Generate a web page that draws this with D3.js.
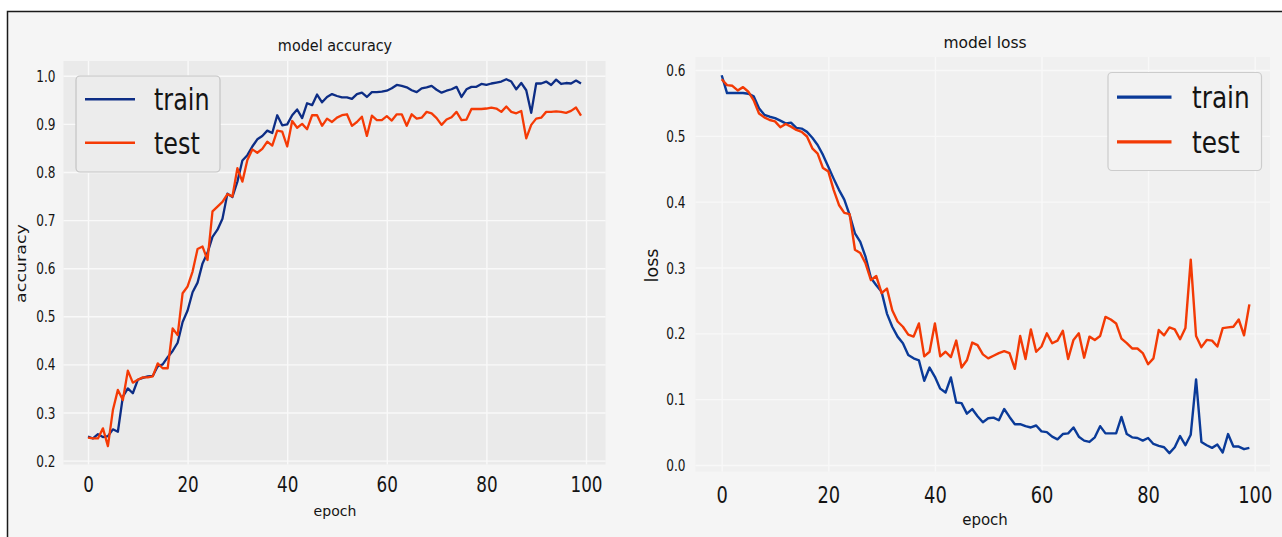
<!DOCTYPE html>
<html>
<head>
<meta charset="utf-8">
<script src="https://cdn.jsdelivr.net/npm/d3@7"></script>
<style>
  html, body { margin: 0; padding: 0; background: #ffffff; }
  svg { display: block; }
</style>
</head>
<body>
<svg id="fig" width="1282" height="537"></svg>
<script>
// Training history, one value per epoch (0..99)
const accTrain = [
  0.250, 0.246, 0.255, 0.249, 0.251, 0.265, 0.260, 0.333, 0.350, 0.340,
  0.368, 0.372, 0.375, 0.376, 0.396, 0.400, 0.415, 0.428, 0.445, 0.488,
  0.512, 0.550, 0.570, 0.610, 0.632, 0.665, 0.680, 0.703, 0.755, 0.748,
  0.780, 0.824, 0.835, 0.853, 0.868, 0.875, 0.886, 0.881, 0.918, 0.897,
  0.899, 0.918, 0.930, 0.912, 0.943, 0.939, 0.961, 0.945, 0.956, 0.962,
  0.958, 0.955, 0.955, 0.952, 0.962, 0.965, 0.956, 0.966, 0.966, 0.967,
  0.969, 0.974, 0.981, 0.979, 0.976, 0.970, 0.966, 0.974, 0.976, 0.979,
  0.971, 0.965, 0.969, 0.972, 0.977, 0.956, 0.972, 0.977, 0.977, 0.983,
  0.981, 0.984, 0.986, 0.988, 0.993, 0.988, 0.972, 0.985, 0.970, 0.923,
  0.984, 0.984, 0.988, 0.981, 0.992, 0.983, 0.985, 0.984, 0.990, 0.984
];
const accTest = [
  0.248, 0.246, 0.246, 0.267, 0.230, 0.305, 0.347, 0.326, 0.387, 0.362,
  0.368, 0.373, 0.373, 0.375, 0.402, 0.392, 0.392, 0.475, 0.461, 0.548,
  0.562, 0.593, 0.640, 0.645, 0.617, 0.718, 0.728, 0.738, 0.754, 0.749,
  0.808, 0.780, 0.825, 0.847, 0.840, 0.848, 0.863, 0.855, 0.886, 0.884,
  0.853, 0.906, 0.892, 0.900, 0.889, 0.918, 0.918, 0.896, 0.911, 0.904,
  0.913, 0.918, 0.920, 0.896, 0.904, 0.915, 0.875, 0.917, 0.908, 0.908,
  0.916, 0.907, 0.920, 0.920, 0.896, 0.920, 0.911, 0.913, 0.925, 0.922,
  0.912, 0.898, 0.909, 0.914, 0.925, 0.908, 0.909, 0.931, 0.931, 0.931,
  0.932, 0.934, 0.932, 0.925, 0.936, 0.925, 0.922, 0.927, 0.870, 0.898,
  0.911, 0.913, 0.925, 0.925, 0.926, 0.925, 0.923, 0.927, 0.934, 0.917
];
const lossTrain = [
  0.592, 0.565, 0.565, 0.565, 0.565, 0.564, 0.560, 0.542, 0.532, 0.529,
  0.527, 0.523, 0.519, 0.520, 0.512, 0.511, 0.506, 0.497, 0.486, 0.471,
  0.453, 0.435, 0.418, 0.403, 0.380, 0.352, 0.339, 0.316, 0.284, 0.273,
  0.263, 0.230, 0.210, 0.195, 0.185, 0.167, 0.162, 0.159, 0.128, 0.148,
  0.134, 0.116, 0.110, 0.133, 0.095, 0.094, 0.078, 0.085, 0.074, 0.065,
  0.071, 0.072, 0.068, 0.085, 0.073, 0.062, 0.062, 0.059, 0.057, 0.060,
  0.051, 0.050, 0.043, 0.039, 0.047, 0.048, 0.057, 0.043, 0.037, 0.035,
  0.042, 0.059, 0.048, 0.048, 0.048, 0.073, 0.047, 0.042, 0.041, 0.037,
  0.041, 0.032, 0.029, 0.027, 0.018, 0.027, 0.044, 0.030, 0.046, 0.130,
  0.035, 0.030, 0.026, 0.031, 0.019, 0.047, 0.028, 0.028, 0.024, 0.026
];
const lossTest = [
  0.586, 0.577, 0.576, 0.569, 0.574, 0.567, 0.554, 0.534, 0.528, 0.524,
  0.522, 0.513, 0.518, 0.514, 0.509, 0.506, 0.499, 0.481, 0.473, 0.451,
  0.446, 0.418, 0.395, 0.383, 0.381, 0.327, 0.322, 0.306, 0.281, 0.287,
  0.261, 0.268, 0.235, 0.218, 0.210, 0.198, 0.195, 0.215, 0.165, 0.172,
  0.215, 0.165, 0.172, 0.164, 0.189, 0.148, 0.159, 0.186, 0.182, 0.168,
  0.162, 0.166, 0.170, 0.173, 0.170, 0.146, 0.196, 0.161, 0.206, 0.172,
  0.180, 0.200, 0.185, 0.189, 0.204, 0.161, 0.190, 0.200, 0.163, 0.195,
  0.190, 0.196, 0.225, 0.221, 0.215, 0.192, 0.185, 0.177, 0.177, 0.170,
  0.153, 0.162, 0.205, 0.197, 0.209, 0.206, 0.191, 0.208, 0.312, 0.196,
  0.179, 0.190, 0.189, 0.180, 0.208, 0.209, 0.210, 0.221, 0.197, 0.244
];

const epochTicks = [0, 20, 40, 60, 80, 100];
const accTicks = [0.2, 0.3, 0.4, 0.5, 0.6, 0.7, 0.8, 0.9, 1.0];
const lossTicks = [0.0, 0.1, 0.2, 0.3, 0.4, 0.5, 0.6];
const seriesNames = ["train", "test"];

const FONT = "DejaVu Sans";
const INK = "#141414";
const svg = d3.select("#fig");

// Outer frame
svg.append("rect")
  .attr("x", 7.5).attr("y", 11.5)
  .attr("width", 1300).attr("height", 560)
  .attr("fill", "#f5f5f5")
  .attr("stroke", "#1a1a1a").attr("stroke-width", 1.5);

// Text helper: squeeze horizontally around the anchor point
function label(g, txt, x, y, opt) {
  const sx = opt.sx || 1, sy = opt.sy || 1, rot = opt.rot || 0;
  return g.append("text")
    .attr("transform", `translate(${x},${y}) rotate(${rot}) scale(${sx},${sy})`)
    .attr("text-anchor", opt.anchor || "middle")
    .attr("font-family", FONT)
    .attr("font-size", opt.size)
    .attr("fill", opt.fill || INK)
    .text(txt);
}

function panel(cfg) {
  const g = svg.append("g");
  const { left, right, top, bottom } = cfg.plot;

  const x = d3.scaleLinear().domain([0, 100]).range(cfg.xRange);
  const y = d3.scaleLinear().domain(cfg.yDomain).range(cfg.yRange);

  g.append("rect")
    .attr("x", left).attr("y", top)
    .attr("width", right - left).attr("height", bottom - top)
    .attr("fill", cfg.bg);

  // grid
  const gx = g.append("g").attr("transform", `translate(0,${bottom})`)
    .call(d3.axisBottom(x).tickValues(epochTicks).tickSize(-(bottom - top)).tickFormat(""));
  const gy = g.append("g").attr("transform", `translate(${left},0)`)
    .call(d3.axisLeft(y).tickValues(cfg.yTicks).tickSize(-(right - left)).tickFormat(""));
  [gx, gy].forEach(a => {
    a.select(".domain").remove();
    a.selectAll("line").attr("stroke", cfg.grid).attr("stroke-width", 1.4);
  });

  // x tick labels
  const lx = g.append("g").attr("transform", `translate(0,${bottom})`)
    .call(d3.axisBottom(x).tickValues(epochTicks).tickSize(0));
  lx.select(".domain").remove();
  lx.selectAll("text")
    .attr("y", cfg.xLabelBase - bottom).attr("dy", null)
    .attr("transform", `scale(${cfg.xTickSx},1)`)
    .attr("font-family", FONT).attr("font-size", cfg.xTickSize)
    .attr("fill", INK);

  // y tick labels
  const ly = g.append("g").attr("transform", `translate(${left},0)`)
    .call(d3.axisLeft(y).tickValues(cfg.yTicks).tickSize(0).tickFormat(d3.format(".1f")));
  ly.select(".domain").remove();
  ly.selectAll("text")
    .attr("x", -cfg.yGap / cfg.yTickSx).attr("dy", "0.36em")
    .attr("transform", `scale(${cfg.yTickSx},1)`)
    .attr("font-family", FONT).attr("font-size", cfg.yTickSize)
    .attr("fill", INK);

  // series
  const line = d3.line().x((d, i) => x(i)).y(d => y(d));
  cfg.series.forEach((s, k) => {
    g.append("path")
      .datum(s)
      .attr("fill", "none")
      .attr("stroke", cfg.colors[k])
      .attr("stroke-width", cfg.lineWidth)
      .attr("stroke-linejoin", "round")
      .attr("d", line);
  });

  // title and axis labels
  label(g, cfg.title, cfg.titlePos[0], cfg.titlePos[1], { size: cfg.titleSize, sx: cfg.titleSx });
  label(g, "epoch", cfg.xLabelPos[0], cfg.xLabelPos[1], { size: cfg.xLabelSize, sx: cfg.xLabelSx });
  label(g, cfg.yLabel, cfg.yLabelPos[0], cfg.yLabelPos[1], { size: cfg.yLabelSize, rot: -90, sy: cfg.yLabelSy });

  // legend
  const L = cfg.legend;
  g.append("rect")
    .attr("x", L.x).attr("y", L.y).attr("width", L.w).attr("height", L.h)
    .attr("rx", 4).attr("ry", 4)
    .attr("fill", L.fill).attr("stroke", L.stroke).attr("stroke-width", 1.2);
  seriesNames.forEach((name, k) => {
    const yy = L.rows[k];
    g.append("line")
      .attr("x1", L.lineX[0]).attr("x2", L.lineX[1])
      .attr("y1", yy).attr("y2", yy)
      .attr("stroke", cfg.colors[k]).attr("stroke-width", L.lineWidth);
    label(g, name, L.textX, yy + L.size * 0.36, { size: L.size, sx: L.sx, anchor: "start" });
  });
}

panel({
  plot: { left: 63.5, right: 605.5, top: 61, bottom: 464.5 },
  xRange: [88, 586],
  yDomain: [0.2, 1.0], yRange: [460.6, 75.8],
  yTicks: accTicks,
  bg: "#eaeaea", grid: "#f9f9f9",
  xTickSize: 21, xTickSx: 0.8, xLabelBase: 492,
  yTickSize: 15.5, yTickSx: 0.78, yGap: 8,
  series: [accTrain, accTest],
  colors: ["#0d2d85", "#f53a05"],
  lineWidth: 2.3,
  title: "model accuracy", titlePos: [335, 51], titleSize: 15, titleSx: 0.96,
  xLabelPos: [335, 515.5], xLabelSize: 14.5, xLabelSx: 0.97,
  yLabel: "accuracy", yLabelPos: [26, 263.5], yLabelSize: 17.5, yLabelSy: 0.8,
  legend: {
    x: 76, y: 76, w: 144, h: 96,
    fill: "#ececec", stroke: "#c4c4c4",
    rows: [99.3, 142.7], lineX: [85, 135], lineWidth: 2.4,
    textX: 154, size: 31, sx: 0.77
  }
});

panel({
  plot: { left: 695.5, right: 1270, top: 57, bottom: 471.5 },
  xRange: [721.7, 1254.7],
  yDomain: [0.0, 0.6], yRange: [465, 70],
  yTicks: lossTicks,
  bg: "#f0f0f0", grid: "#f8f8f8",
  xTickSize: 23.5, xTickSx: 0.76, xLabelBase: 503,
  yTickSize: 15.5, yTickSx: 0.78, yGap: 10,
  series: [lossTrain, lossTest],
  colors: ["#0a3a98", "#f33a05"],
  lineWidth: 2.4,
  title: "model loss", titlePos: [985, 48], titleSize: 15.5, titleSx: 1,
  xLabelPos: [985, 525], xLabelSize: 15.5, xLabelSx: 0.97,
  yLabel: "loss", yLabelPos: [658, 265.5], yLabelSize: 17.5, yLabelSy: 1,
  legend: {
    x: 1108, y: 72.5, w: 153.5, h: 98,
    fill: "#f2f2f2", stroke: "#cccccc",
    rows: [97.1, 141.9], lineX: [1117, 1171.5], lineWidth: 3.2,
    textX: 1192, size: 31, sx: 0.8
  }
});
</script>
</body>
</html>
